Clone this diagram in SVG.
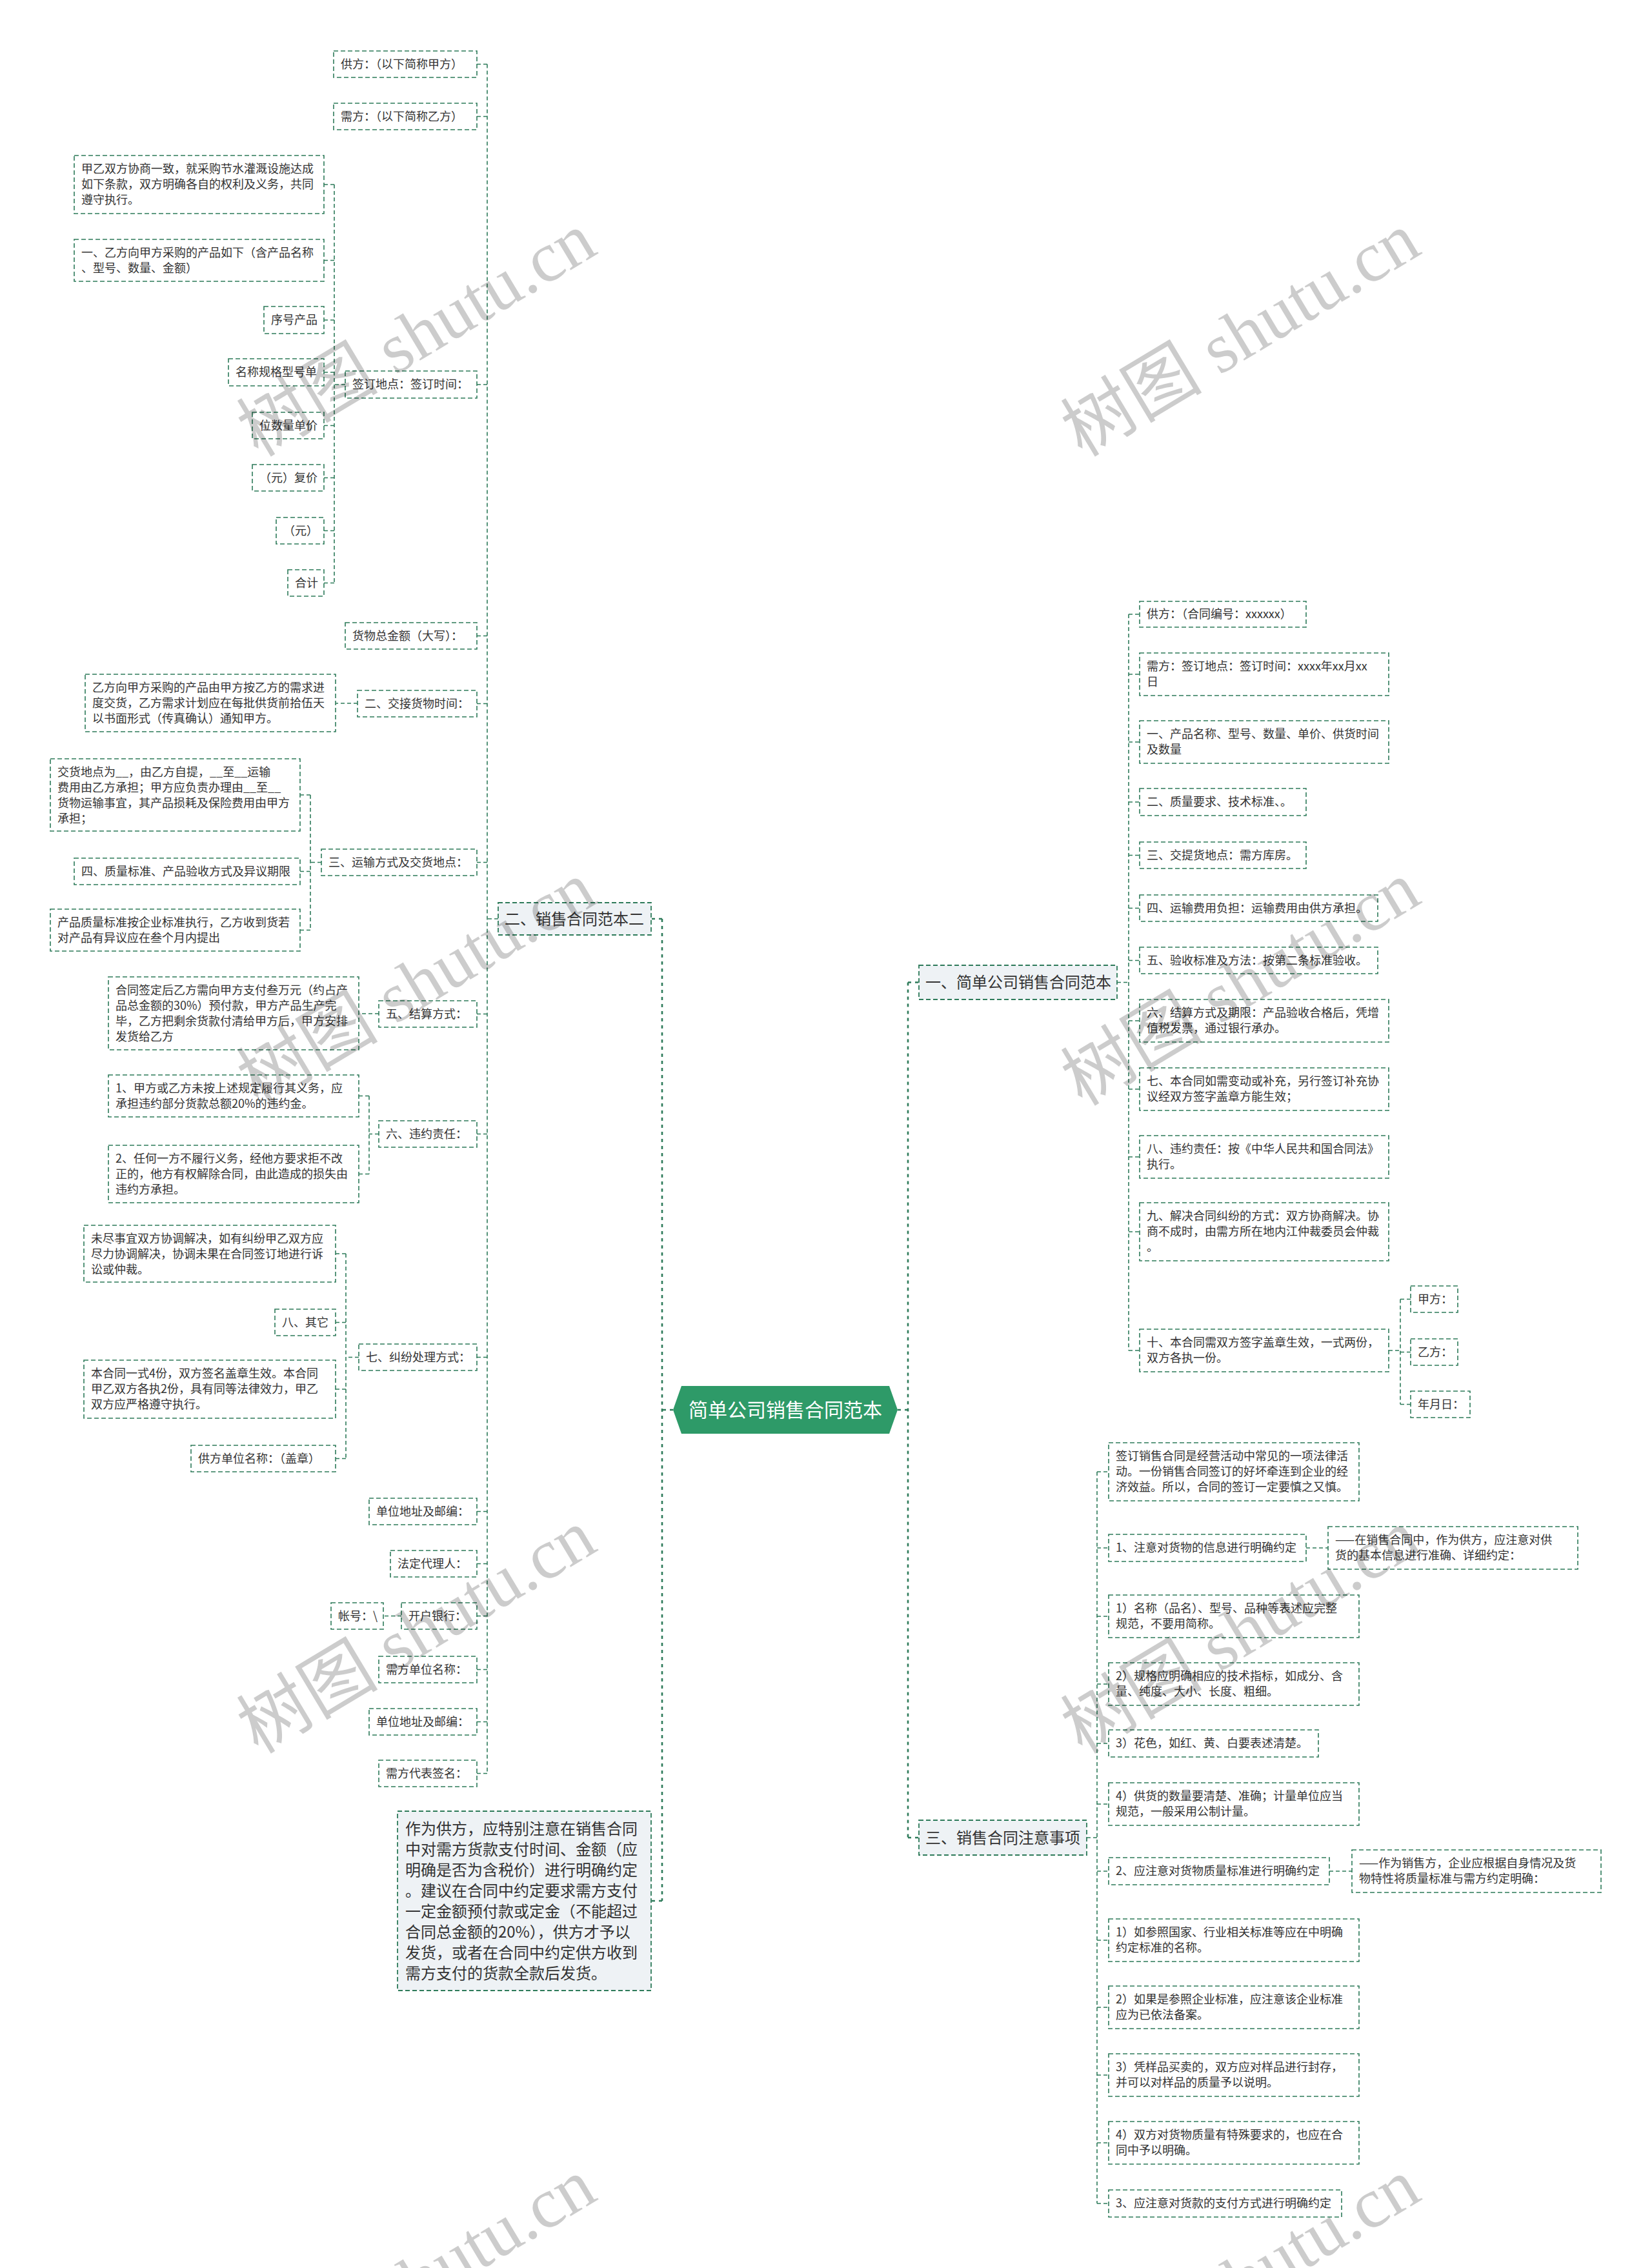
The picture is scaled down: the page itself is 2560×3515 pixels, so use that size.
<svg xmlns="http://www.w3.org/2000/svg" width="2560" height="3515" viewBox="0 0 2560 3515">
<style>
.b{fill:#fff;stroke:#2e7b5a;stroke-width:1.6;stroke-dasharray:7 4}
.b1{fill:#eef2f5;stroke:#2e7b5a;stroke-width:1.8;stroke-dasharray:7 4}
.c{fill:none;stroke:#2e7b5a;stroke-width:1.6;stroke-dasharray:6 4}
.c0{fill:none;stroke:#2e7b5a;stroke-width:2.6;stroke-dasharray:5 6}
text{font-family:"Noto Sans CJK SC","Noto Sans",sans-serif;fill:#333}
.t{font-size:18px}
.t1{font-size:24px}
.tn{font-size:24px}
.tr{font-size:30px;fill:#fff}
.wm{font-family:"Liberation Serif","Noto Sans CJK SC",serif;font-size:110px;fill:#000;fill-opacity:0.2}
</style>
<rect width="2560" height="3515" fill="#fff"/>
<g id="connectors">
<path class="c0" d="M1043 2185H1026M1026 1424V2946M1026 1424H1009M1026 2946H1009M1391 2185H1407M1407 1522.5V2848M1407 1522.5H1424M1407 2848H1424"/>
<path class="c" d="M772 1424H755M755 99.5V2748.5M755 99.5H739M755 180.5H739M755 596H739M755 985.5H739M755 1090.5H739M755 1336.5H739M755 1571.5H739M755 1757.5H739M755 2103.5H739M755 2342.5H739M755 2423.5H739M755 2504.5H739M755 2587.5H739M755 2668.5H739M755 2748.5H739"/>
<path class="c" d="M535 596H518M518 286V903.5M518 286H502M518 403.5H502M518 496H502M518 577H502M518 659.5H502M518 740.5H502M518 822.5H502M518 903.5H502"/>
<path class="c" d="M554 1090H520"/>
<path class="c" d="M498 1336.5H481M481 1232V1441.5M481 1232H465M481 1350.5H465M481 1441.5H465"/>
<path class="c" d="M587 1571H556"/>
<path class="c" d="M587 1757.5H572M572 1698.5V1819.5M572 1698.5H556M572 1819.5H556"/>
<path class="c" d="M556 2103.5H536M536 1943V2260.5M536 1943H520M536 2049.5H520M536 2153H520M536 2260.5H520"/>
<path class="c" d="M622 2504.5H594"/>
<path class="c" d="M1731 1522.5H1749M1749 952V2093M1749 952H1766M1749 1045H1766M1749 1150H1766M1749 1243H1766M1749 1325.5H1766M1749 1407.5H1766M1749 1488.5H1766M1749 1582H1766M1749 1688H1766M1749 1793H1766M1749 1909H1766M1749 2093H1766"/>
<path class="c" d="M2152 2093H2170M2170 2013.5V2176.5M2170 2013.5H2186M2170 2095.5H2186M2170 2176.5H2186"/>
<path class="c" d="M1684 2848H1700M1700 2281V3415M1700 2281H1718M1700 2399H1718M1700 2505H1718M1700 2610H1718M1700 2702H1718M1700 2796H1718M1700 2900H1718M1700 3007H1718M1700 3111H1718M1700 3216H1718M1700 3321H1718M1700 3415H1718"/>
<path class="c" d="M2024 2399H2058M2060 2900H2095"/>
</g>
<g id="root">
<polygon points="1043,2185 1056,2148 1378,2148 1391,2185 1378,2222 1056,2222" fill="#2e9a68"/>
<text class="tr" x="1217" y="2196" text-anchor="middle">简单公司销售合同范本</text>
</g>
<g id="n-l1"><rect class="b" x="517" y="79" width="222" height="41"/><text class="t" x="528" y="106">供方：（以下简称甲方）</text></g>
<g id="n-l2"><rect class="b" x="517" y="160" width="222" height="41"/><text class="t" x="528" y="187">需方：（以下简称乙方）</text></g>
<g id="n-l3"><rect class="b" x="535" y="575" width="204" height="42"/><text class="t" x="546" y="602">签订地点：签订时间：</text></g>
<g id="n-l3a"><rect class="b" x="115" y="241" width="387" height="90"/><text class="t" x="126" y="268"><tspan x="126" y="268">甲乙双方协商一致，就采购节水灌溉设施达成</tspan><tspan x="126" y="292">如下条款，双方明确各自的权利及义务，共同</tspan><tspan x="126" y="316">遵守执行。</tspan></text></g>
<g id="n-l3b"><rect class="b" x="115" y="371" width="387" height="65"/><text class="t"><tspan x="126" y="398">一、乙方向甲方采购的产品如下（含产品名称</tspan><tspan x="126" y="422">、型号、数量、金额）</tspan></text></g>
<g id="n-l3c"><rect class="b" x="409" y="475" width="93" height="42"/><text class="t" x="420" y="502">序号产品</text></g>
<g id="n-l3d"><rect class="b" x="354" y="556" width="148" height="42"/><text class="t" x="365" y="583">名称规格型号单</text></g>
<g id="n-l3e"><rect class="b" x="391" y="639" width="111" height="41"/><text class="t" x="402" y="666">位数量单价</text></g>
<g id="n-l3f"><rect class="b" x="391" y="720" width="111" height="41"/><text class="t" x="402" y="747">（元）复价</text></g>
<g id="n-l3g"><rect class="b" x="428" y="802" width="74" height="41"/><text class="t" x="439" y="829">（元）</text></g>
<g id="n-l3h"><rect class="b" x="446" y="883" width="56" height="41"/><text class="t" x="457" y="910">合计</text></g>
<g id="n-l4"><rect class="b" x="535" y="965" width="204" height="41"/><text class="t" x="546" y="992">货物总金额（大写）：</text></g>
<g id="n-l5"><rect class="b" x="554" y="1070" width="185" height="41"/><text class="t" x="565" y="1097">二、交接货物时间：</text></g>
<g id="n-l5a"><rect class="b" x="132" y="1045" width="388" height="89"/><text class="t"><tspan x="143" y="1072">乙方向甲方采购的产品由甲方按乙方的需求进</tspan><tspan x="143" y="1096">度交货，乙方需求计划应在每批供货前拾伍天</tspan><tspan x="143" y="1120">以书面形式（传真确认）通知甲方。</tspan></text></g>
<g id="n-l6"><rect class="b" x="498" y="1316" width="241" height="41"/><text class="t" x="509" y="1343">三、运输方式及交货地点：</text></g>
<g id="n-l6a"><rect class="b" x="78" y="1176" width="387" height="112"/><text class="t"><tspan x="89" y="1203">交货地点为__，由乙方自提，__至__运输</tspan><tspan x="89" y="1227">费用由乙方承担；甲方应负责办理由__至__</tspan><tspan x="89" y="1251">货物运输事宜，其产品损耗及保险费用由甲方</tspan><tspan x="89" y="1275">承担；</tspan></text></g>
<g id="n-l6b"><rect class="b" x="115" y="1330" width="350" height="41"/><text class="t" x="126" y="1357">四、质量标准、产品验收方式及异议期限</text></g>
<g id="n-l6c"><rect class="b" x="78" y="1409" width="387" height="65"/><text class="t"><tspan x="89" y="1436">产品质量标准按企业标准执行，乙方收到货若</tspan><tspan x="89" y="1460">对产品有异议应在叁个月内提出</tspan></text></g>
<g id="n-left"><rect class="b1" x="772" y="1399" width="237" height="50"/><text class="t1" x="782" y="1433">二、销售合同范本二</text></g>
<g id="n-l8"><rect class="b" x="587" y="1551" width="152" height="41"/><text class="t" x="598" y="1578">五、结算方式：</text></g>
<g id="n-l8a"><rect class="b" x="168" y="1514" width="388" height="113"/><text class="t"><tspan x="179" y="1541">合同签定后乙方需向甲方支付叁万元（约占产</tspan><tspan x="179" y="1565">品总金额的30%）预付款，甲方产品生产完</tspan><tspan x="179" y="1589">毕，乙方把剩余货款付清给甲方后，甲方安排</tspan><tspan x="179" y="1613">发货给乙方</tspan></text></g>
<g id="n-l9"><rect class="b" x="587" y="1737" width="152" height="41"/><text class="t" x="598" y="1764">六、违约责任：</text></g>
<g id="n-l9a"><rect class="b" x="168" y="1666" width="388" height="65"/><text class="t"><tspan x="179" y="1693">1、甲方或乙方未按上述规定履行其义务，应</tspan><tspan x="179" y="1717">承担违约部分货款总额20%的违约金。</tspan></text></g>
<g id="n-l9b"><rect class="b" x="168" y="1775" width="388" height="89"/><text class="t"><tspan x="179" y="1802">2、任何一方不履行义务，经他方要求拒不改</tspan><tspan x="179" y="1826">正的，他方有权解除合同，由此造成的损失由</tspan><tspan x="179" y="1850">违约方承担。</tspan></text></g>
<g id="n-l10"><rect class="b" x="556" y="2083" width="183" height="41"/><text class="t" x="567" y="2110">七、纠纷处理方式：</text></g>
<g id="n-l10a"><rect class="b" x="130" y="1899" width="390" height="88"/><text class="t"><tspan x="141" y="1926">未尽事宜双方协调解决，如有纠纷甲乙双方应</tspan><tspan x="141" y="1950">尽力协调解决，协调未果在合同签订地进行诉</tspan><tspan x="141" y="1974">讼或仲裁。</tspan></text></g>
<g id="n-l10b"><rect class="b" x="426" y="2029" width="94" height="41"/><text class="t" x="437" y="2056">八、其它</text></g>
<g id="n-l10c"><rect class="b" x="130" y="2108" width="390" height="90"/><text class="t"><tspan x="141" y="2135">本合同一式4份，双方签名盖章生效。本合同</tspan><tspan x="141" y="2159">甲乙双方各执2份，具有同等法律效力，甲乙</tspan><tspan x="141" y="2183">双方应严格遵守执行。</tspan></text></g>
<g id="n-l10d"><rect class="b" x="296" y="2240" width="224" height="41"/><text class="t" x="307" y="2267">供方单位名称：（盖章）</text></g>
<g id="n-l11"><rect class="b" x="572" y="2322" width="167" height="41"/><text class="t" x="583" y="2349">单位地址及邮编：</text></g>
<g id="n-l12"><rect class="b" x="605" y="2403" width="134" height="41"/><text class="t" x="616" y="2430">法定代理人：</text></g>
<g id="n-l13"><rect class="b" x="622" y="2484" width="117" height="41"/><text class="t" x="633" y="2511">开户银行：</text></g>
<g id="n-l13a"><rect class="b" x="513" y="2484" width="81" height="41"/><text class="t" x="524" y="2511">帐号：\</text></g>
<g id="n-l14"><rect class="b" x="587" y="2567" width="152" height="41"/><text class="t" x="598" y="2594">需方单位名称：</text></g>
<g id="n-l15"><rect class="b" x="572" y="2648" width="167" height="41"/><text class="t" x="583" y="2675">单位地址及邮编：</text></g>
<g id="n-l16"><rect class="b" x="587" y="2728" width="152" height="41"/><text class="t" x="598" y="2755">需方代表签名：</text></g>
<g id="n-note"><rect class="b1" x="616" y="2807" width="393" height="278"/><text class="tn"><tspan x="628" y="2843">作为供方，应特别注意在销售合同</tspan><tspan x="628" y="2875">中对需方货款支付时间、金额（应</tspan><tspan x="628" y="2907">明确是否为含税价）进行明确约定</tspan><tspan x="628" y="2939">。建议在合同中约定要求需方支付</tspan><tspan x="628" y="2971">一定金额预付款或定金（不能超过</tspan><tspan x="628" y="3003">合同总金额的20%），供方才予以</tspan><tspan x="628" y="3035">发货，或者在合同中约定供方收到</tspan><tspan x="628" y="3067">需方支付的货款全款后发货。</tspan></text></g>
<g id="n-r1"><rect class="b1" x="1424" y="1496" width="307" height="53"/><text class="t1" x="1434" y="1531">一、简单公司销售合同范本</text></g>
<g id="n-r1a"><rect class="b" x="1766" y="932" width="258" height="40"/><text class="t" x="1777" y="958">供方：（合同编号：xxxxxx）</text></g>
<g id="n-r1b"><rect class="b" x="1766" y="1012" width="386" height="66"/><text class="t"><tspan x="1777" y="1039">需方：签订地点：签订时间：xxxx年xx月xx</tspan><tspan x="1777" y="1063">日</tspan></text></g>
<g id="n-r1c"><rect class="b" x="1766" y="1117" width="386" height="66"/><text class="t"><tspan x="1777" y="1144">一、产品名称、型号、数量、单价、供货时间</tspan><tspan x="1777" y="1168">及数量</tspan></text></g>
<g id="n-r1d"><rect class="b" x="1766" y="1222" width="258" height="42"/><text class="t" x="1777" y="1249">二、质量要求、技术标准、。</text></g>
<g id="n-r1e"><rect class="b" x="1766" y="1305" width="258" height="41"/><text class="t" x="1777" y="1332">三、交提货地点：需方库房。</text></g>
<g id="n-r1f"><rect class="b" x="1766" y="1387" width="369" height="41"/><text class="t" x="1777" y="1414">四、运输费用负担：运输费用由供方承担。</text></g>
<g id="n-r1g"><rect class="b" x="1766" y="1468" width="369" height="41"/><text class="t" x="1777" y="1495">五、验收标准及方法：按第二条标准验收。</text></g>
<g id="n-r1h"><rect class="b" x="1766" y="1549" width="386" height="66"/><text class="t"><tspan x="1777" y="1576">六、结算方式及期限：产品验收合格后，凭增</tspan><tspan x="1777" y="1600">值税发票，通过银行承办。</tspan></text></g>
<g id="n-r1i"><rect class="b" x="1766" y="1655" width="386" height="66"/><text class="t"><tspan x="1777" y="1682">七、本合同如需变动或补充，另行签订补充协</tspan><tspan x="1777" y="1706">议经双方签字盖章方能生效；</tspan></text></g>
<g id="n-r1j"><rect class="b" x="1766" y="1760" width="386" height="66"/><text class="t"><tspan x="1777" y="1787">八、违约责任：按《中华人民共和国合同法》</tspan><tspan x="1777" y="1811">执行。</tspan></text></g>
<g id="n-r1k"><rect class="b" x="1766" y="1864" width="386" height="90"/><text class="t"><tspan x="1777" y="1891">九、解决合同纠纷的方式：双方协商解决。协</tspan><tspan x="1777" y="1915">商不成时，由需方所在地内江仲裁委员会仲裁</tspan><tspan x="1777" y="1939">。</tspan></text></g>
<g id="n-r1l"><rect class="b" x="1766" y="2060" width="386" height="66"/><text class="t"><tspan x="1777" y="2087">十、本合同需双方签字盖章生效，一式两份，</tspan><tspan x="1777" y="2111">双方各执一份。</tspan></text></g>
<g id="n-r1l1"><rect class="b" x="2186" y="1993" width="73" height="41"/><text class="t" x="2197" y="2020">甲方：</text></g>
<g id="n-r1l2"><rect class="b" x="2186" y="2075" width="73" height="41"/><text class="t" x="2197" y="2102">乙方：</text></g>
<g id="n-r1l3"><rect class="b" x="2186" y="2156" width="92" height="41"/><text class="t" x="2197" y="2183">年月日：</text></g>
<g id="n-r2"><rect class="b1" x="1424" y="2821" width="260" height="54"/><text class="t1" x="1434" y="2857">三、销售合同注意事项</text></g>
<g id="n-r2a"><rect class="b" x="1718" y="2236" width="388" height="90"/><text class="t"><tspan x="1729" y="2263">签订销售合同是经营活动中常见的一项法律活</tspan><tspan x="1729" y="2287">动。一份销售合同签订的好坏牵连到企业的经</tspan><tspan x="1729" y="2311">济效益。所以，合同的签订一定要慎之又慎。</tspan></text></g>
<g id="n-r2b"><rect class="b" x="1718" y="2378" width="306" height="42"/><text class="t" x="1729" y="2405">1、注意对货物的信息进行明确约定</text></g>
<g id="n-r2b1"><rect class="b" x="2058" y="2366" width="387" height="66"/><text class="t"><tspan x="2069" y="2393">——在销售合同中，作为供方，应注意对供</tspan><tspan x="2069" y="2417">货的基本信息进行准确、详细约定：</tspan></text></g>
<g id="n-r2c"><rect class="b" x="1718" y="2472" width="388" height="66"/><text class="t"><tspan x="1729" y="2499">1）名称（品名）、型号、品种等表述应完整</tspan><tspan x="1729" y="2523">规范，不要用简称。</tspan></text></g>
<g id="n-r2d"><rect class="b" x="1718" y="2577" width="388" height="66"/><text class="t"><tspan x="1729" y="2604">2）规格应明确相应的技术指标，如成分、含</tspan><tspan x="1729" y="2628">量、纯度、大小、长度、粗细。</tspan></text></g>
<g id="n-r2e"><rect class="b" x="1718" y="2681" width="325" height="42"/><text class="t" x="1729" y="2708">3）花色，如红、黄、白要表述清楚。</text></g>
<g id="n-r2f"><rect class="b" x="1718" y="2763" width="388" height="66"/><text class="t"><tspan x="1729" y="2790">4）供货的数量要清楚、准确；计量单位应当</tspan><tspan x="1729" y="2814">规范，一般采用公制计量。</tspan></text></g>
<g id="n-r2g"><rect class="b" x="1718" y="2879" width="342" height="42"/><text class="t" x="1729" y="2906">2、应注意对货物质量标准进行明确约定</text></g>
<g id="n-r2g1"><rect class="b" x="2095" y="2867" width="386" height="66"/><text class="t"><tspan x="2106" y="2894">——作为销售方，企业应根据自身情况及货</tspan><tspan x="2106" y="2918">物特性将质量标准与需方约定明确：</tspan></text></g>
<g id="n-r2h"><rect class="b" x="1718" y="2974" width="388" height="66"/><text class="t"><tspan x="1729" y="3001">1）如参照国家、行业相关标准等应在中明确</tspan><tspan x="1729" y="3025">约定标准的名称。</tspan></text></g>
<g id="n-r2i"><rect class="b" x="1718" y="3078" width="388" height="66"/><text class="t"><tspan x="1729" y="3105">2）如果是参照企业标准，应注意该企业标准</tspan><tspan x="1729" y="3129">应为已依法备案。</tspan></text></g>
<g id="n-r2j"><rect class="b" x="1718" y="3183" width="388" height="66"/><text class="t"><tspan x="1729" y="3210">3）凭样品买卖的，双方应对样品进行封存，</tspan><tspan x="1729" y="3234">并可以对样品的质量予以说明。</tspan></text></g>
<g id="n-r2k"><rect class="b" x="1718" y="3288" width="388" height="66"/><text class="t"><tspan x="1729" y="3315">4）双方对货物质量有特殊要求的，也应在合</tspan><tspan x="1729" y="3339">同中予以明确。</tspan></text></g>
<g id="n-r2l"><rect class="b" x="1718" y="3394" width="361" height="42"/><text class="t" x="1729" y="3421">3、应注意对货款的支付方式进行明确约定</text></g>
<g id="watermarks">
<text class="wm" text-anchor="middle" transform="translate(645 518) rotate(-31)" y="38">树图 shutu.cn</text>
<text class="wm" text-anchor="middle" transform="translate(1922 518) rotate(-31)" y="38">树图 shutu.cn</text>
<text class="wm" text-anchor="middle" transform="translate(645 1524) rotate(-31)" y="38">树图 shutu.cn</text>
<text class="wm" text-anchor="middle" transform="translate(1922 1524) rotate(-31)" y="38">树图 shutu.cn</text>
<text class="wm" text-anchor="middle" transform="translate(645 2528) rotate(-31)" y="38">树图 shutu.cn</text>
<text class="wm" text-anchor="middle" transform="translate(1922 2528) rotate(-31)" y="38">树图 shutu.cn</text>
<text class="wm" text-anchor="middle" transform="translate(645 3534) rotate(-31)" y="38">树图 shutu.cn</text>
<text class="wm" text-anchor="middle" transform="translate(1922 3534) rotate(-31)" y="38">树图 shutu.cn</text>
</g>
</svg>
